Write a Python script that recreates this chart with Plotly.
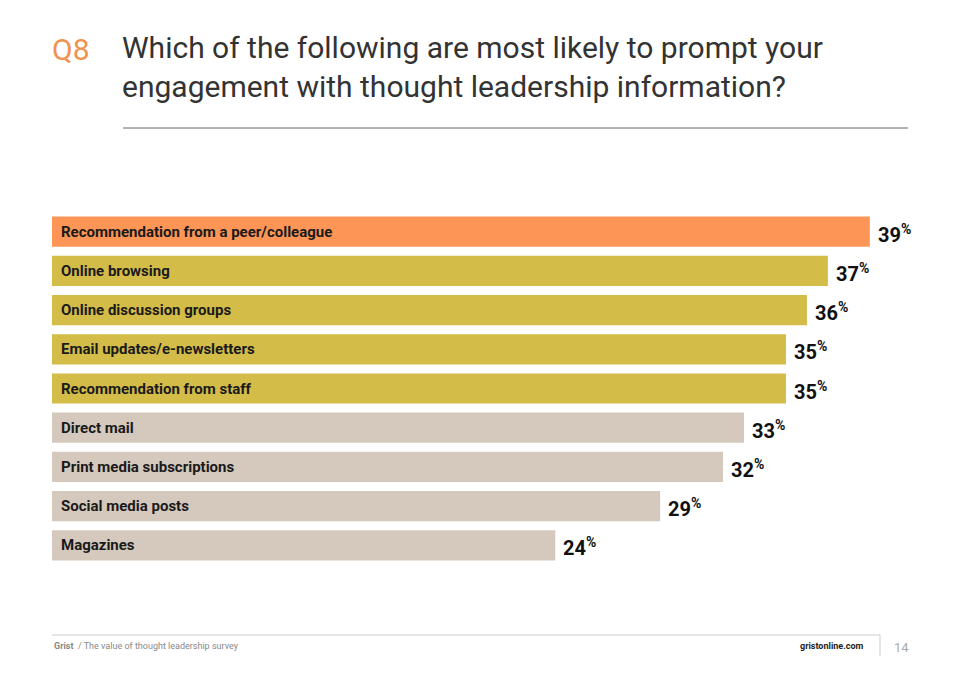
import plotly.graph_objects as go

categories = ["Recommendation from a peer/colleague", "Online browsing", "Online discussion groups",
              "Email updates/e-newsletters", "Recommendation from staff", "Direct mail",
              "Print media subscriptions", "Social media posts", "Magazines"]
values = [39, 37, 36, 35, 35, 33, 32, 29, 24]
colors = ["#fd9556"] + ["#d4bc48"] * 4 + ["#d5c8bd"] * 4

# page has an 8px body margin, so work in screen pixels and subtract it
OFF = 8
W, H = 960 - 2 * OFF, 679 - 2 * OFF
L, T, B = 52 - OFF, 212 - OFF, 679 - 565 - OFF
PW, PH = W - L, H - T - B

def px(x, y):
    # screen pixel -> paper coords of the plot area
    return (x - OFF - L) / PW, (H - B - (y - OFF)) / PH

fig = go.Figure(go.Bar(y=categories, x=values, orientation="h", marker_color=colors,
                       marker_line_width=0, width=0.77, hoverinfo="skip"))

ann = []
for c, v in zip(categories, values):
    ann.append(dict(x=0, y=c, xref="x", yref="y", text="<b>%s</b>" % c, showarrow=False,
                    xanchor="left", xshift=7, font=dict(family="Roboto", size=15, color="#1a1a1a")))
    ann.append(dict(x=v, y=c, xref="x", yref="y", text="<b>%d</b><sup><b>%%</b></sup>" % v,
                    showarrow=False, xanchor="left", xshift=6, yshift=-2,
                    font=dict(family="Roboto", size=20, color="#111")))

def pann(x, y, text, anchor, font, **kw):
    a, b = px(x, y)
    return dict(x=a, y=b, xref="paper", yref="paper", text=text, showarrow=False,
                xanchor=anchor, yanchor="middle", font=font, **kw)

ann += [
    pann(50, 50, "Q8", "left", dict(family="Roboto", size=30, color="#f0934f")),
    pann(120, 67, "Which of the following are most likely to prompt your<br>engagement with thought leadership information?",
         "left", dict(family="Roboto", size=30, color="#333"), align="left"),
    pann(52, 646, "<b>Grist</b>  / The value of thought leadership survey", "left",
         dict(family="Roboto", size=9, color="#888")),
    pann(866, 646, "<b>gristonline.com</b>", "right", dict(family="Roboto", size=9, color="#222")),
    pann(892, 647, "14", "left", dict(family="Roboto", size=13, color="#aaa")),
]

def line(x0, y0, x1, y1, color):
    a0, b0 = px(x0, y0)
    a1, b1 = px(x1, y1)
    return dict(type="line", xref="paper", yref="paper", x0=a0, x1=a1, y0=b0, y1=b1,
                line=dict(color=color, width=1))

shapes = [
    line(123, 128, 908, 128, "#666"),
    line(52, 635, 880, 635, "#ccc"),
    line(880, 635, 880, 656, "#ccc"),
]

fig.update_layout(width=W, height=H, margin=dict(l=L, r=0, t=T, b=B),
                  plot_bgcolor="white", paper_bgcolor="white", showlegend=False,
                  xaxis=dict(range=[0, PW / 20.97], visible=False, fixedrange=True),
                  yaxis=dict(autorange="reversed", visible=False, fixedrange=True),
                  annotations=ann, shapes=shapes)
fig.write_html("out.html", config={"displayModeBar": False})
